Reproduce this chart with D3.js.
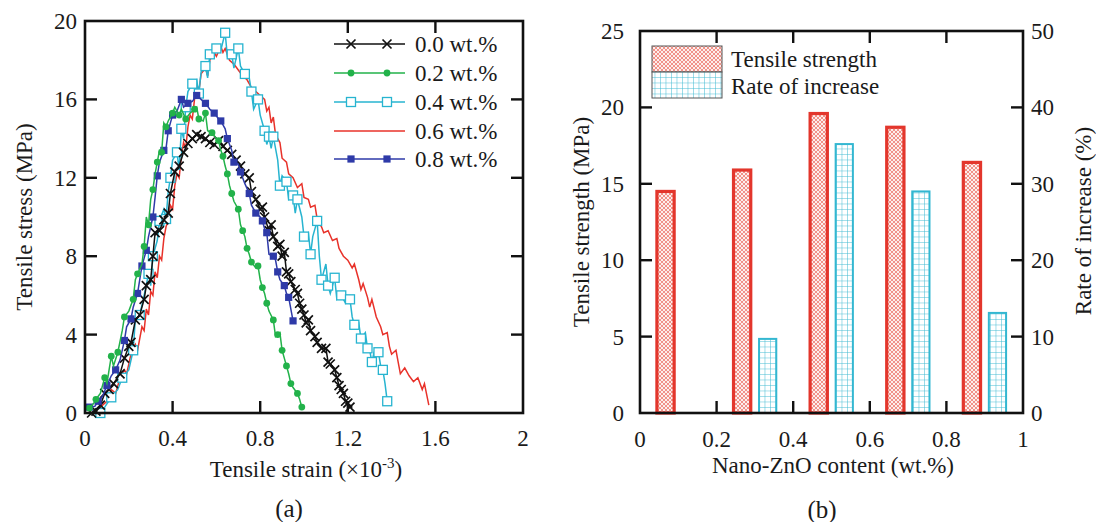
<!DOCTYPE html>
<html lang="en">
<head>
<meta charset="utf-8">
<title>Tensile results</title>
<script src="https://d3js.org/d3.v7.min.js"></script>
<style>
  body { margin: 0; background: #fff; }
</style>
</head>
<body>
<svg width="1096" height="522"></svg>
<script>
// ---- data: panel (a) stress-strain curves [strain (x10^-3), stress MPa]
const s00 = [[0.03,0],[0.05,0.1],[0.07,0.4],[0.09,1.0],[0.11,1.2],[0.13,1.5],[0.16,2.0],[0.18,2.8],[0.20,3.4],[0.21,3.6],[0.23,4.75],[0.25,5.0],[0.27,5.8],[0.28,6.5],[0.30,6.8],[0.31,8.0],[0.32,9.2],[0.34,9.3],[0.36,9.85],[0.38,10.2],[0.39,11.2],[0.41,12.3],[0.43,12.6],[0.45,13.3],[0.47,13.75],[0.49,14.0],[0.51,14.2],[0.53,14.1],[0.55,14.0],[0.57,13.8],[0.59,13.7],[0.61,13.9],[0.63,13.6],[0.65,13.4],[0.67,13.2],[0.69,12.9],[0.71,12.6],[0.73,12.2],[0.75,12.0],[0.76,11.3],[0.78,10.9],[0.80,10.4],[0.81,10.5],[0.82,10.0],[0.84,9.3],[0.85,9.6],[0.86,9.0],[0.88,8.5],[0.89,8.6],[0.90,8.0],[0.91,8.2],[0.92,7.2],[0.93,7.1],[0.94,6.7],[0.96,6.3],[0.97,6.1],[0.98,5.6],[0.99,5.3],[1.00,5.0],[1.01,4.6],[1.02,4.75],[1.03,4.2],[1.05,3.9],[1.06,3.6],[1.08,3.3],[1.10,3.3],[1.11,2.6],[1.12,2.5],[1.14,2.2],[1.15,1.8],[1.16,1.4],[1.17,1.2],[1.18,1.0],[1.19,0.6],[1.20,0.5],[1.21,0.3]];
const s02 = [[0.02,0.25],[0.04,0.5],[0.05,0.7],[0.07,1.0],[0.09,1.8],[0.10,1.5],[0.12,2.9],[0.13,2.4],[0.15,3.1],[0.17,4.2],[0.18,4.9],[0.20,5.2],[0.22,5.8],[0.23,6.8],[0.24,7.1],[0.26,7.6],[0.27,8.5],[0.28,10.0],[0.29,9.6],[0.30,10.9],[0.31,11.4],[0.32,12.2],[0.33,12.8],[0.34,13.4],[0.35,13.3],[0.36,14.8],[0.37,14.6],[0.38,14.9],[0.40,15.3],[0.41,15.6],[0.43,15.2],[0.44,15.5],[0.46,15.0],[0.48,15.3],[0.50,15.5],[0.51,15.6],[0.52,15.0],[0.54,14.9],[0.55,15.3],[0.56,14.4],[0.58,14.3],[0.60,14.0],[0.61,13.9],[0.62,13.4],[0.63,13.1],[0.64,12.6],[0.65,12.2],[0.66,11.6],[0.67,11.2],[0.68,10.8],[0.70,10.4],[0.71,9.6],[0.72,9.3],[0.73,9.0],[0.74,8.4],[0.75,8.1],[0.76,7.7],[0.78,7.4],[0.79,7.5],[0.80,6.8],[0.81,6.4],[0.82,6.1],[0.83,5.6],[0.84,5.2],[0.86,4.75],[0.87,3.9],[0.88,4.0],[0.89,4.1],[0.90,3.2],[0.91,2.8],[0.92,2.4],[0.93,2.0],[0.94,1.5],[0.95,1.3],[0.97,1.0],[0.98,0.7],[0.99,0.3]];
const s04 = [[0.07,0],[0.09,0.3],[0.12,0.8],[0.15,1.2],[0.17,1.8],[0.20,2.2],[0.22,3.2],[0.23,4.8],[0.25,5.0],[0.27,6.0],[0.29,7.1],[0.30,6.5],[0.31,8.0],[0.33,8.8],[0.34,9.8],[0.36,10.4],[0.37,9.9],[0.38,11.3],[0.39,12.0],[0.40,12.9],[0.42,13.3],[0.43,12.4],[0.44,14.5],[0.45,14.0],[0.46,15.6],[0.47,16.4],[0.49,16.8],[0.51,17.0],[0.52,16.3],[0.53,17.4],[0.55,17.7],[0.56,17.1],[0.57,18.3],[0.59,18.4],[0.60,18.6],[0.62,18.5],[0.64,19.4],[0.65,18.2],[0.67,18.3],[0.68,17.6],[0.70,18.6],[0.71,17.7],[0.73,17.3],[0.75,17.1],[0.76,16.4],[0.77,15.5],[0.79,16.0],[0.80,15.2],[0.82,14.4],[0.83,13.7],[0.84,14.1],[0.85,13.5],[0.86,14.1],[0.88,12.9],[0.89,11.6],[0.90,12.1],[0.92,11.8],[0.93,10.9],[0.95,11.1],[0.96,10.2],[0.97,10.9],[0.99,10.0],[1.00,9.0],[1.02,9.2],[1.03,8.1],[1.04,9.0],[1.06,9.8],[1.07,8.0],[1.08,6.8],[1.10,7.6],[1.11,6.5],[1.12,6.1],[1.14,6.9],[1.15,5.8],[1.17,6.0],[1.19,5.6],[1.21,5.8],[1.22,4.9],[1.23,4.5],[1.25,4.6],[1.26,3.8],[1.28,4.1],[1.29,3.3],[1.30,3.2],[1.31,2.6],[1.32,3.1],[1.34,3.1],[1.35,2.4],[1.36,2.2],[1.37,1.5],[1.38,0.6],[1.39,0.5]];
const s06 = [[0.04,0],[0.07,0.3],[0.10,0.6],[0.12,1.2],[0.14,1.0],[0.16,1.8],[0.18,2.2],[0.19,2.0],[0.21,3.0],[0.23,3.5],[0.24,3.2],[0.26,4.4],[0.27,4.2],[0.28,5.3],[0.29,5.0],[0.30,6.2],[0.31,6.0],[0.32,7.2],[0.33,6.9],[0.34,8.0],[0.35,7.8],[0.36,8.9],[0.37,9.5],[0.38,9.8],[0.39,10.6],[0.40,10.4],[0.41,11.6],[0.42,12.2],[0.43,12.0],[0.44,13.1],[0.45,13.8],[0.46,13.5],[0.47,14.6],[0.48,15.2],[0.49,15.0],[0.50,16.0],[0.51,16.8],[0.52,16.4],[0.53,17.3],[0.55,17.6],[0.56,17.2],[0.57,18.0],[0.59,18.4],[0.60,18.2],[0.62,18.7],[0.63,18.4],[0.64,18.6],[0.66,18.0],[0.68,17.8],[0.70,17.5],[0.72,17.2],[0.74,17.0],[0.76,16.6],[0.78,16.4],[0.80,16.2],[0.82,16.0],[0.83,15.4],[0.84,15.6],[0.85,14.8],[0.86,15.1],[0.87,14.2],[0.89,13.8],[0.90,13.0],[0.92,12.8],[0.93,12.2],[0.95,12.0],[0.97,11.5],[0.99,11.7],[1.00,11.0],[1.02,10.9],[1.03,10.5],[1.05,10.6],[1.06,9.9],[1.08,9.5],[1.09,9.2],[1.11,9.3],[1.13,8.8],[1.15,8.9],[1.16,8.4],[1.18,8.0],[1.20,7.8],[1.22,7.4],[1.23,7.6],[1.25,6.8],[1.26,6.3],[1.27,6.6],[1.29,5.9],[1.30,5.4],[1.31,5.8],[1.33,4.9],[1.35,4.4],[1.36,4.0],[1.38,4.1],[1.39,3.4],[1.40,3.0],[1.42,3.2],[1.43,2.6],[1.44,2.0],[1.46,2.3],[1.48,1.9],[1.50,1.6],[1.52,1.8],[1.54,1.2],[1.55,1.5],[1.57,0.4]];
const s08 = [[0.02,0.3],[0.045,0.34],[0.06,0.6],[0.08,0.85],[0.10,1.4],[0.12,1.9],[0.14,2.2],[0.16,2.7],[0.18,3.7],[0.19,4.4],[0.21,4.8],[0.22,5.4],[0.24,6.1],[0.25,6.8],[0.26,7.5],[0.27,7.9],[0.28,8.3],[0.29,9.0],[0.31,10.0],[0.32,11.0],[0.33,12.1],[0.34,12.8],[0.36,13.4],[0.37,13.5],[0.38,14.4],[0.39,14.8],[0.40,15.2],[0.42,15.4],[0.44,16.0],[0.45,15.6],[0.47,15.8],[0.49,15.9],[0.51,16.2],[0.53,16.0],[0.55,15.8],[0.57,15.5],[0.59,15.3],[0.61,15.0],[0.62,14.9],[0.64,14.5],[0.65,14.0],[0.67,13.4],[0.68,12.8],[0.70,12.7],[0.71,12.3],[0.73,11.7],[0.75,11.2],[0.76,10.6],[0.78,10.2],[0.80,10.0],[0.81,9.8],[0.82,9.4],[0.83,9.2],[0.84,8.1],[0.86,8.0],[0.87,7.8],[0.88,7.2],[0.89,6.8],[0.91,6.5],[0.92,6.1],[0.93,5.9],[0.94,5.3],[0.95,4.7]];

const curveNames = ["0.0 wt.%", "0.2 wt.%", "0.4 wt.%", "0.6 wt.%", "0.8 wt.%"];
const strainTicks = [0, 0.4, 0.8, 1.2, 1.6, 2];
const stressTicks = [0, 4, 8, 12, 16, 20];

// ---- data: panel (b) bars
const contents = [0, 0.2, 0.4, 0.6, 0.8];
const strength = [14.5, 15.9, 19.6, 18.7, 16.4];
const increase = [0, 9.7, 35.2, 29.0, 13.1];
const contentTicks = [0, 0.2, 0.4, 0.6, 0.8, 1];
const strengthTicks = [0, 5, 10, 15, 20, 25];
const increaseTicks = [0, 10, 20, 30, 40, 50];

const svg = d3.select("svg");
const TICK = 12;
const FS = 23;

// patterns for the bars
const defs = svg.append("defs");
const pr = defs.append("pattern").attr("id", "hatchRed")
  .attr("patternUnits", "userSpaceOnUse").attr("width", 4).attr("height", 4);
pr.append("rect").attr("width", 4).attr("height", 4).attr("fill", "#fdeeec");
pr.append("path").attr("d", "M0,0 L4,4 M4,0 L0,4").attr("stroke", "#ee7a70").attr("stroke-width", 0.8);
const pc = defs.append("pattern").attr("id", "gridCyan")
  .attr("patternUnits", "userSpaceOnUse").attr("width", 5.5).attr("height", 5.5);
pc.append("rect").attr("width", 5.5).attr("height", 5.5).attr("fill", "#fff");
pc.append("path").attr("d", "M0,0 H5.5 M0,0 V5.5").attr("stroke", "#3fbad2").attr("stroke-width", 1);

function frame(g, x0, y0, w, h) {
  g.append("rect").attr("x", x0).attr("y", y0).attr("width", w).attr("height", h)
    .attr("fill", "none").attr("stroke", "#111").attr("stroke-width", 2.6);
}

// =================== panel (a)
const ax = d3.scaleLinear().domain([0, 2]).range([85, 523]);
const ay = d3.scaleLinear().domain([0, 20]).range([413, 21]);
const ga = svg.append("g");

const series = [
  {data: s00, color: "#111111", mark: "x", every: 1},
  {data: s02, color: "#22b24a", mark: "circle", every: 2},
  {data: s04, color: "#27b4d0", mark: "osquare", every: 2},
  {data: s06, color: "#e8322a", mark: "none", every: 1},
  {data: s08, color: "#2e3aa8", mark: "square", every: 2}
];

function drawMark(g, type, x, y, color) {
  if (type === "x") {
    g.append("path").attr("d", `M${x-4.5},${y-4.5}L${x+4.5},${y+4.5}M${x+4.5},${y-4.5}L${x-4.5},${y+4.5}`)
      .attr("stroke", color).attr("stroke-width", 1.7);
  } else if (type === "circle") {
    g.append("circle").attr("cx", x).attr("cy", y).attr("r", 3.4).attr("fill", color);
  } else if (type === "osquare") {
    g.append("rect").attr("x", x-4.5).attr("y", y-4.5).attr("width", 9).attr("height", 9)
      .attr("fill", "#fff").attr("stroke", color).attr("stroke-width", 1.3);
  } else if (type === "square") {
    g.append("rect").attr("x", x-3.6).attr("y", y-3.6).attr("width", 7.2).attr("height", 7.2)
      .attr("fill", color);
  }
}

const line = d3.line().x(d => ax(d[0])).y(d => ay(d[1]));
const drawOrder = [3, 2, 0, 4, 1];
drawOrder.forEach(i => {
  const s = series[i];
  const g = ga.append("g");
  g.append("path").datum(s.data).attr("d", line)
    .attr("fill", "none").attr("stroke", s.color).attr("stroke-width", 1.5);
  s.data.forEach((d, j) => {
    if (j % s.every === 0) drawMark(g, s.mark, ax(d[0]), ay(d[1]), s.color);
  });
});

frame(ga, 85, 21, 438, 392);
// ticks (inward, all sides)
strainTicks.slice(1, -1).forEach(t => {
  ga.append("line").attr("x1", ax(t)).attr("x2", ax(t)).attr("y1", 413).attr("y2", 413 - TICK).attr("stroke", "#111").attr("stroke-width", 2.4);
  ga.append("line").attr("x1", ax(t)).attr("x2", ax(t)).attr("y1", 21).attr("y2", 21 + TICK).attr("stroke", "#111").attr("stroke-width", 2.4);
});
stressTicks.slice(1, -1).forEach(t => {
  ga.append("line").attr("x1", 85).attr("x2", 85 + TICK).attr("y1", ay(t)).attr("y2", ay(t)).attr("stroke", "#111").attr("stroke-width", 2.4);
  ga.append("line").attr("x1", 523).attr("x2", 523 - TICK).attr("y1", ay(t)).attr("y2", ay(t)).attr("stroke", "#111").attr("stroke-width", 2.4);
});
strainTicks.forEach(t => {
  ga.append("text").attr("x", ax(t)).attr("y", 446).attr("text-anchor", "middle")
    .attr("font-size", FS).text(t);
});
stressTicks.forEach(t => {
  ga.append("text").attr("x", 77).attr("y", ay(t) + 8).attr("text-anchor", "end")
    .attr("font-size", FS).text(t);
});
ga.append("text").attr("transform", "translate(32,217) rotate(-90)").attr("text-anchor", "middle")
  .attr("font-size", FS).text("Tensile stress (MPa)");
const xt = ga.append("text").attr("x", 306).attr("y", 477).attr("text-anchor", "middle").attr("font-size", FS);
xt.append("tspan").text("Tensile strain (×10");
xt.append("tspan").attr("dy", -9).attr("font-size", 15).text("-3");
xt.append("tspan").attr("dy", 9).text(")");
ga.append("text").attr("x", 289).attr("y", 517).attr("text-anchor", "middle").attr("font-size", 25).text("(a)");

// legend (a)
const legY = [44, 73, 102, 131, 159];
series.forEach((s, i) => {
  const y = legY[i];
  ga.append("line").attr("x1", 334).attr("x2", 405).attr("y1", y).attr("y2", y)
    .attr("stroke", s.color).attr("stroke-width", 1.5);
  drawMark(ga, s.mark, 351, y, s.color);
  drawMark(ga, s.mark, 387, y, s.color);
  ga.append("text").attr("x", 415).attr("y", y + 8).attr("font-size", FS).text(curveNames[i]);
});

// =================== panel (b)
const bx = d3.scaleLinear().domain([0, 1]).range([640, 1023]);
const by = d3.scaleLinear().domain([0, 25]).range([413, 31]);
const by2 = d3.scaleLinear().domain([0, 50]).range([413, 31]);
const gb = svg.append("g");
const barW = 0.045;

gb.selectAll("rect.str").data(contents).join("rect").attr("class", "str")
  .attr("x", (c) => bx(c + 0.2 / 3 - barW / 2))
  .attr("width", bx(barW) - bx(0))
  .attr("y", (c, i) => by(strength[i]))
  .attr("height", (c, i) => by(0) - by(strength[i]))
  .attr("fill", "url(#hatchRed)").attr("stroke", "#e3362c").attr("stroke-width", 3.2);

gb.selectAll("rect.inc").data(contents.filter((c, i) => increase[i] > 0)).join("rect").attr("class", "inc")
  .attr("x", (c) => bx(c + 0.4 / 3 - barW / 2))
  .attr("width", bx(barW) - bx(0))
  .attr("y", (c) => by2(increase[contents.indexOf(c)]))
  .attr("height", (c) => by2(0) - by2(increase[contents.indexOf(c)]))
  .attr("fill", "url(#gridCyan)").attr("stroke", "#33b7d1").attr("stroke-width", 2);

frame(gb, 640, 31, 383, 382);
contentTicks.slice(1, -1).forEach(t => {
  gb.append("line").attr("x1", bx(t)).attr("x2", bx(t)).attr("y1", 413).attr("y2", 413 - TICK).attr("stroke", "#111").attr("stroke-width", 2.4);
  gb.append("line").attr("x1", bx(t)).attr("x2", bx(t)).attr("y1", 31).attr("y2", 31 + TICK).attr("stroke", "#111").attr("stroke-width", 2.4);
});
strengthTicks.slice(1, -1).forEach(t => {
  gb.append("line").attr("x1", 640).attr("x2", 640 + TICK).attr("y1", by(t)).attr("y2", by(t)).attr("stroke", "#111").attr("stroke-width", 2.4);
});
increaseTicks.slice(1, -1).forEach(t => {
  gb.append("line").attr("x1", 1023).attr("x2", 1023 - TICK).attr("y1", by2(t)).attr("y2", by2(t)).attr("stroke", "#111").attr("stroke-width", 2.4);
});
contentTicks.forEach(t => {
  gb.append("text").attr("x", bx(t)).attr("y", 447).attr("text-anchor", "middle").attr("font-size", FS).text(t);
});
strengthTicks.forEach(t => {
  gb.append("text").attr("x", 624).attr("y", by(t) + 8).attr("text-anchor", "end").attr("font-size", FS).text(t);
});
increaseTicks.forEach(t => {
  gb.append("text").attr("x", 1031).attr("y", by2(t) + 8).attr("text-anchor", "start").attr("font-size", FS).text(t);
});
gb.append("text").attr("transform", "translate(589,222) rotate(-90)").attr("text-anchor", "middle")
  .attr("font-size", FS).text("Tensile strength (MPa)");
gb.append("text").attr("transform", "translate(1091,221) rotate(-90)").attr("text-anchor", "middle")
  .attr("font-size", FS).text("Rate of increase (%)");
gb.append("text").attr("x", 833).attr("y", 473).attr("text-anchor", "middle").attr("font-size", FS).text("Nano-ZnO content (wt.%)");
gb.append("text").attr("x", 822).attr("y", 518).attr("text-anchor", "middle").attr("font-size", 25).text("(b)");

// legend (b)
gb.append("rect").attr("x", 652).attr("y", 46).attr("width", 70).attr("height", 26)
  .attr("fill", "url(#hatchRed)").attr("stroke", "#555").attr("stroke-width", 1);
gb.append("rect").attr("x", 652).attr("y", 72).attr("width", 70).attr("height", 26)
  .attr("fill", "url(#gridCyan)").attr("stroke", "#555").attr("stroke-width", 1);
gb.append("text").attr("x", 731).attr("y", 67).attr("font-size", FS).text("Tensile strength");
gb.append("text").attr("x", 731).attr("y", 94).attr("font-size", FS).text("Rate of increase");

// serif font everywhere
svg.selectAll("text").style("font-family", '"Liberation Serif", "Times New Roman", serif').style("fill", "#1a1a1a");
</script>
</body>
</html>
